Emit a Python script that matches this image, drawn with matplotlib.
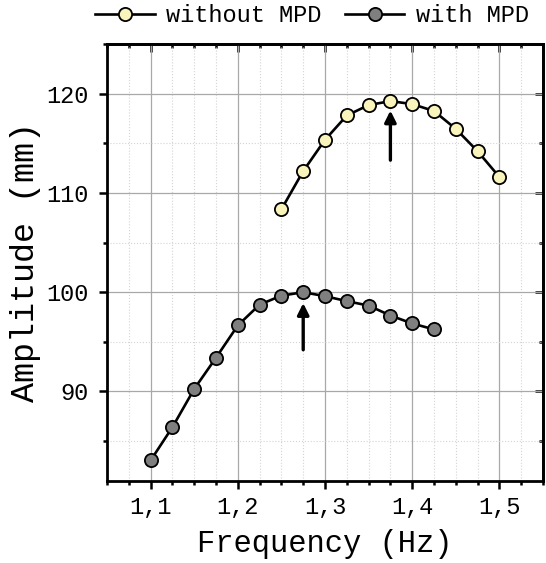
"""
Amplitude vs frequency, with and without MPD
"""

import numpy as np
import matplotlib
matplotlib.use("Agg")
import matplotlib.pyplot as plt
from matplotlib.ticker import MultipleLocator, FuncFormatter

# DATA
freq_without = [1.25, 1.275, 1.3, 1.325, 1.35, 1.375, 1.4, 1.425, 1.45, 1.475, 1.5]
amp_without = [108.35, 112.2, 115.35, 117.8, 118.85, 119.25, 118.95, 118.25, 116.45, 114.2, 111.6]

freq_with = [1.1, 1.125, 1.15, 1.175, 1.2, 1.225, 1.25, 1.275, 1.3, 1.325, 1.35, 1.375, 1.4, 1.425]
amp_with = [83.05, 86.4, 90.25, 93.4, 96.65, 98.75, 99.65, 100.0, 99.6, 99.1, 98.65, 97.65, 96.85, 96.25]

# peak arrows: x, tail y, tip y
arrow_without = (1.375, 113.3, 118.3)
arrow_with = (1.275, 94.2, 98.9)

labels = ["without MPD", "with MPD"]

# STYLE
plt.rcParams['font.family'] = ['Liberation Mono', 'DejaVu Sans Mono']

fig = plt.figure(figsize=(5.46, 5.63), dpi=100)
ax = fig.add_axes([0.196, 0.146, 0.7985, 0.7758])

ax.plot(freq_without, amp_without, '-o', color='black', lw=1.9,
        markersize=9.5, markerfacecolor='#f8f4bc', markeredgecolor='black',
        markeredgewidth=1.3, label=labels[0], zorder=3)
ax.plot(freq_with, amp_with, '-o', color='black', lw=1.9,
        markersize=9.5, markerfacecolor='#7f7f7f', markeredgecolor='black',
        markeredgewidth=1.3, label=labels[1], zorder=3)

for x, y0, y1 in (arrow_without, arrow_with):
    ax.annotate('', xy=(x, y1), xytext=(x, y0),
                arrowprops=dict(arrowstyle='-|>', color='black', lw=2.4,
                                mutation_scale=17, shrinkA=0, shrinkB=0),
                zorder=4)

ax.set_xlim(1.05, 1.55)
ax.set_ylim(81, 125)
ax.xaxis.set_major_locator(MultipleLocator(0.1))
ax.xaxis.set_minor_locator(MultipleLocator(0.025))
ax.yaxis.set_major_locator(MultipleLocator(10))
ax.yaxis.set_minor_locator(MultipleLocator(5))
ax.xaxis.set_major_formatter(FuncFormatter(lambda v, p: f"{v:.1f}".replace('.', ',')))
ax.yaxis.set_major_formatter(FuncFormatter(lambda v, p: f"{v:.0f}"))

ax.grid(which='major', color='#a8a8a8', linestyle='-', linewidth=0.9, zorder=0)
ax.grid(which='minor', color='#d4d4d4', linestyle=':', linewidth=0.8, zorder=0)
ax.set_axisbelow(True)

for s in ax.spines.values():
    s.set_linewidth(2.0)

ax.tick_params(axis='both', which='major', labelsize=17, width=1.8, length=6,
               direction='out', top=False, right=False)
ax.tick_params(axis='both', which='minor', width=1.8, length=3, direction='out',
               top=False, right=False)
ax.tick_params(axis='x', which='major', pad=5)
ax.tick_params(axis='y', which='major', pad=7)

# inward ticks on top and right
ax_top = ax.secondary_xaxis('top')
ax_top.xaxis.set_major_locator(MultipleLocator(0.1))
ax_top.xaxis.set_minor_locator(MultipleLocator(0.025))
ax_top.tick_params(which='major', direction='in', length=6, width=1.8, labeltop=False)
ax_top.tick_params(which='minor', direction='in', length=3, width=1.8)
ax_top.spines['top'].set_linewidth(2.0)
ax_right = ax.secondary_yaxis('right')
ax_right.yaxis.set_major_locator(MultipleLocator(10))
ax_right.yaxis.set_minor_locator(MultipleLocator(5))
ax_right.tick_params(which='major', direction='in', length=6, width=1.8, labelright=False)
ax_right.tick_params(which='minor', direction='in', length=3, width=1.8)
ax_right.spines['right'].set_linewidth(2.0)

ax.set_xlabel("Frequency (Hz)", fontsize=22, labelpad=7)
ax.set_ylabel("Amplitude (mm)", fontsize=24, labelpad=4)

fig.legend(loc='center', bbox_to_anchor=(0.572, 0.972), ncol=2, frameon=False,
           fontsize=17, handlelength=2.5, columnspacing=1.0, handletextpad=0.5)

fig.savefig("out.png", dpi=100)
